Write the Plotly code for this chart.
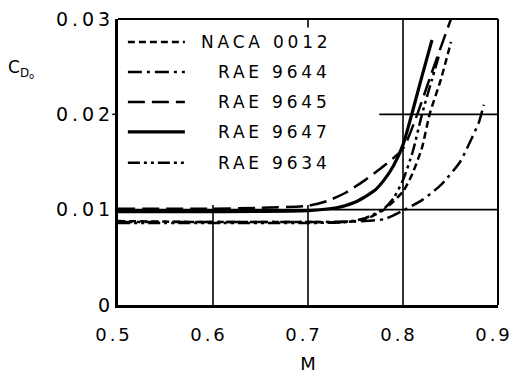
import plotly.graph_objects as go

# ---- data ----
series_names = ["NACA 0012", "RAE 9644", "RAE 9645", "RAE 9647", "RAE 9634"]

M_naca = [0.50, 0.60, 0.70, 0.74, 0.76, 0.78, 0.80, 0.81, 0.82, 0.828, 0.84, 0.8505]
CD_naca = [0.0088, 0.0087, 0.0087, 0.0087, 0.0090, 0.0100, 0.0119, 0.0138, 0.0165, 0.0200, 0.0237, 0.0276]

M_9644 = [0.50, 0.60, 0.70, 0.76, 0.78, 0.79, 0.80, 0.82, 0.84, 0.86, 0.87, 0.88, 0.885]
CD_9644 = [0.0087, 0.0087, 0.0087, 0.0088, 0.0090, 0.0094, 0.0099, 0.0110, 0.0126, 0.0150, 0.0170, 0.0192, 0.0210]

M_9645 = [0.50, 0.60, 0.65, 0.70, 0.72, 0.74, 0.76, 0.78, 0.80, 0.815, 0.83, 0.8505]
CD_9645 = [0.0101, 0.0101, 0.0102, 0.0104, 0.0109, 0.0118, 0.0131, 0.0146, 0.0164, 0.0200, 0.0243, 0.0300]

M_9647 = [0.50, 0.60, 0.70, 0.73, 0.75, 0.77, 0.78, 0.79, 0.80, 0.81, 0.82, 0.8305]
CD_9647 = [0.0098, 0.0098, 0.0099, 0.0102, 0.0108, 0.0120, 0.0131, 0.0146, 0.0168, 0.0203, 0.0240, 0.0278]

M_9634 = [0.50, 0.60, 0.70, 0.74, 0.76, 0.78, 0.79, 0.80, 0.81, 0.82, 0.83, 0.838]
CD_9634 = [0.0086, 0.0086, 0.0086, 0.0087, 0.0091, 0.0101, 0.0112, 0.0131, 0.0160, 0.0200, 0.0235, 0.0262]

x_ticks = [0.5, 0.6, 0.7, 0.8, 0.9]
x_ticktext = ["0.5", "0.6", "0.7", "0.8", "0.9"]
y_ticks = [0, 0.01, 0.02, 0.03]
y_ticktext = ["0", "0.01", "0.02", "0.03"]

# ---- styles ----
dashes = ["7px,4px", "14px,5px,3px,5px", "17px,7px", "solid", "12px,4px,3px,4px,3px,4px"]
widths = [2.5, 2.5, 2.5, 3.2, 2.5]
FONT = "DejaVu Sans"

def spaced(t, ls):
    return '<span style="letter-spacing:%spx">%s</span>' % (ls, t)

fig = go.Figure()
data = [(M_naca, CD_naca), (M_9644, CD_9644), (M_9645, CD_9645), (M_9647, CD_9647), (M_9634, CD_9634)]
for name, (mx, cy), d, w in zip(series_names, data, dashes, widths):
    fig.add_trace(go.Scatter(x=mx, y=cy, mode="lines", name=name, showlegend=False,
                             line=dict(color="black", width=w, dash=d, shape="spline", smoothing=0.6)))

shapes = []
# partial grid lines (the legend area hides them in the original)
grid = dict(color="black", width=1.6)
shapes.append(dict(type="line", xref="x", yref="y", x0=0.6, x1=0.6, y0=0, y1=0.0105, line=grid, layer="below"))
shapes.append(dict(type="line", xref="x", yref="y", x0=0.7, x1=0.7, y0=0, y1=0.0105, line=grid, layer="below"))
shapes.append(dict(type="line", xref="x", yref="y", x0=0.8, x1=0.8, y0=0, y1=0.03, line=grid, layer="below"))
shapes.append(dict(type="line", xref="x", yref="y", x0=0.5, x1=0.9, y0=0.01, y1=0.01, line=grid, layer="below"))
shapes.append(dict(type="line", xref="x", yref="y", x0=0.775, x1=0.9, y0=0.02, y1=0.02, line=grid, layer="below"))
# thin top / right frame
shapes.append(dict(type="line", xref="paper", yref="paper", x0=0, x1=1, y0=1, y1=1, line=dict(color="black", width=2)))
shapes.append(dict(type="line", xref="paper", yref="paper", x0=1, x1=1, y0=0, y1=1, line=dict(color="black", width=2)))
# small ticks: top at 0.7, left at 0.02
shapes.append(dict(type="line", xref="x", yref="paper", x0=0.7, x1=0.7, y0=1, y1=0.97, line=dict(color="black", width=1.6)))
shapes.append(dict(type="line", xref="paper", yref="y", x0=-0.015, x1=0, y0=0.02, y1=0.02, line=dict(color="black", width=1.6)))

# manual legend
leg_y = [0.920, 0.815, 0.710, 0.605, 0.497]
annotations = []
for name, d, w, yy in zip(series_names, dashes, widths, leg_y):
    shapes.append(dict(type="line", xref="paper", yref="paper", x0=0.026, x1=0.176, y0=yy, y1=yy,
                       line=dict(color="black", width=w, dash=d)))
    annotations.append(dict(xref="paper", yref="paper", x=0.566, y=yy, xanchor="right", yanchor="middle",
                            text=spaced(name, 3.8), showarrow=False,
                            font=dict(family=FONT, size=17, color="black")))

# y-axis title C_Do
annotations.append(dict(xref="paper", yref="paper", x=-0.295, y=0.875, xanchor="left", yanchor="top",
                        text="C<sub>D<sub>o</sub></sub>", showarrow=False,
                        font=dict(family=FONT, size=17, color="black")))

fig.update_layout(
    width=512, height=374,
    margin=dict(l=118, r=14, t=19, b=69),
    paper_bgcolor="white", plot_bgcolor="white",
    shapes=shapes, annotations=annotations,
    font=dict(family=FONT, color="black"),
    xaxis=dict(range=[0.5, 0.9], tickvals=x_ticks, ticktext=[spaced(t, 3) for t in x_ticktext],
               showgrid=False, zeroline=False, showline=True, linewidth=3, linecolor="black",
               ticks="", ticklabelstandoff=11, ticklabelshift=-4, ticklabeloverflow="allow",
               automargin=False, tickfont=dict(family=FONT, size=18, color="black"),
               title=dict(text="M", standoff=20, font=dict(family=FONT, size=18, color="black"))),
    yaxis=dict(range=[0, 0.03], tickvals=y_ticks, ticktext=[spaced(t, 4) for t in y_ticktext],
               showgrid=False, zeroline=False, showline=True, linewidth=3, linecolor="black",
               ticks="", ticklabelstandoff=-3, ticklabeloverflow="allow", automargin=False,
               tickfont=dict(family=FONT, size=19, color="black")),
)

fig.write_html("out.html")
